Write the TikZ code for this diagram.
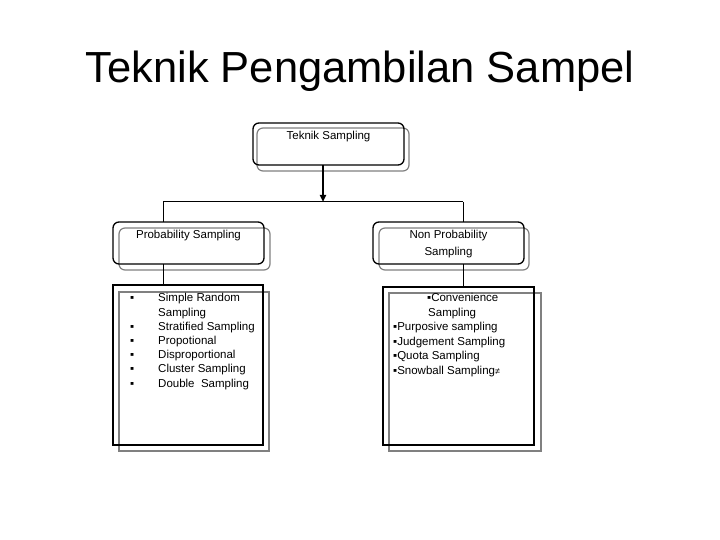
\documentclass[tikz,border=0pt]{standalone}
\usepackage{fontspec}
\setmainfont{Liberation Sans}
\usetikzlibrary{arrows.meta,calc}
\begin{document}
\begin{tikzpicture}[x=1pt,y=-1pt,
  blk/.style={draw=black,line width=1.3pt,inner sep=0pt,outer sep=0pt},
  gry/.style={draw=black!50,line width=1.2pt},
  conn/.style={draw=black,line width=1pt},
  arr/.style={draw=black,line width=2pt,-{Triangle[length=7pt,width=6pt]}},
  txt/.style={inner sep=0pt,font=\fontsize{11.5}{14}\selectfont},
  itm/.style={txt,anchor=base west},
  ctr/.style={txt,anchor=base}]
\useasboundingbox (0,0) rectangle (720,540);
% title
\node[inner sep=0pt,anchor=base,font=\fontsize{43.5}{50}\selectfont] (title) at (360,83) {Teknik Pengambilan Sampel};
% shadows
\draw[gry,rounded corners=6pt] (257,128) rectangle (409,171);
\draw[gry,rounded corners=6pt] (119,228) rectangle (270,270);
\draw[gry,rounded corners=6pt] (379,228) rectangle (529,270);
\draw[gry] (119,292) rectangle (269,451);
\draw[gry] (389,293) rectangle (541,451);
% boxes
\node[blk,rounded corners=6pt,minimum width=151pt,minimum height=42pt] (top) at (328.5,144) {};
\node[blk,rounded corners=6pt,minimum width=151pt,minimum height=42pt] (prob) at (188.5,243) {};
\node[blk,rounded corners=6pt,minimum width=151pt,minimum height=42pt] (np) at (448.5,243) {};
\node[blk,minimum width=150pt,minimum height=160pt] (plist) at (188,365) {};
\node[blk,minimum width=151pt,minimum height=158pt] (nlist) at (458.5,366) {};
% box labels
\node[ctr] (ttop) at (328.5,140) {Teknik Sampling};
\node[ctr] (tprob) at (188.5,239) {Probability Sampling};
\node[ctr] (tnp1) at (448.5,239) {Non Probability};
\node[ctr] (tnp2) at (448.5,255) {Sampling};
% connectors
\coordinate (jA) at (323,202);
\coordinate (jL) at (163,202);
\coordinate (jR) at (463,202);
\draw[arr] (jA |- top.south) -- (jA);
\draw[conn] (jL) -- (jR);
\draw[conn] (jL) -- (jL |- prob.north);
\draw[conn] (jR) -- (jR |- np.north);
\draw[conn] (jL |- prob.south) -- (jL |- plist.north);
\draw[conn] (jR |- np.south) -- (jR |- nlist.north);
% probability list
\foreach \yy/\nm in {301/a,330/b,344/c,358/d,372/e,387/f}
  \node[itm] (pb\nm) at (130,\yy) {▪};
\node[itm] (p1) at (158,301) {Simple Random};
\node[itm] (p2) at (158,316) {Sampling};
\node[itm] (p3) at (158,330) {Stratified Sampling};
\node[itm] (p4) at (158,344) {Propotional};
\node[itm] (p5) at (158,358) {Disproportional};
\node[itm] (p6) at (158,372) {Cluster Sampling};
\node[itm] (p7) at (158,387) {Double\ \ Sampling};
% non probability list
\node[itm] (n1) at (427,301) {▪Convenience};
\node[itm] (n2) at (428,316) {Sampling};
\node[itm] (n3) at (393,330) {▪Purposive sampling};
\node[itm] (n4) at (393,345) {▪Judgement Sampling};
\node[itm] (n5) at (393,359) {▪Quota Sampling};
\node[itm] (n6) at (393,374) {▪Snowball Sampling{\fontsize{9}{10}\selectfont ≠}};
\end{tikzpicture}
\end{document}
